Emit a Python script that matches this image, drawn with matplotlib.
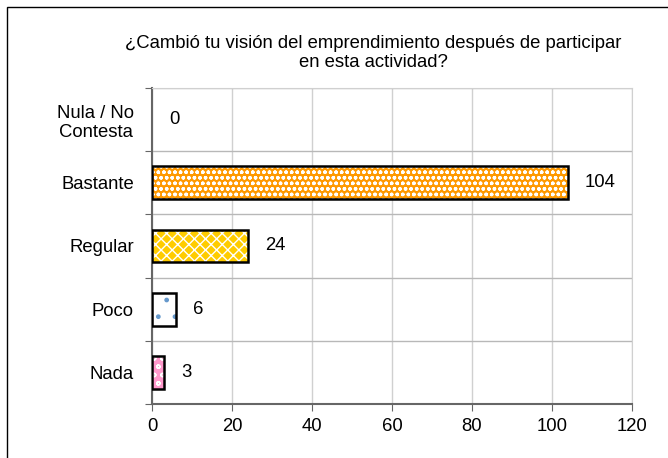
import matplotlib
matplotlib.use("Agg")
import matplotlib.pyplot as plt
from matplotlib.patches import Rectangle

plt.rcParams['font.family'] = ['Liberation Sans', 'DejaVu Sans']

# data (bottom to top)
categories = ["Nada", "Poco", "Regular", "Bastante", "Nula / No\nContesta"]
values = [3, 6, 24, 104, 0]
face_colors = ["#FF99CC", "#FFFFFF", "#FFCC00", "#FF9900", "#FFFFFF"]
hatch_colors = ["#FFFFFF", "#6699CC", "#FFFFFF", "#FFFFFF", "#FFFFFF"]
hatches = ["oo", ".", "xxx", "ooo", ""]

W, H = 668, 458
fs = 13.3
fig = plt.figure(figsize=(W / 100, H / 100), dpi=100)

# outer frame of the chart (only top and left edges fall inside the picture)
fig.patches.append(Rectangle((7 / W, -0.05), 1.0, 1.05 - 7 / H,
                             transform=fig.transFigure, fill=False,
                             edgecolor="#000000", linewidth=1.0))

ax = fig.add_axes([152 / W, 1 - 404 / H, (632 - 152) / W, (404 - 88) / H])

y = list(range(len(categories)))
ax.barh(y, values, height=0.52, color=face_colors, edgecolor="none", zorder=2)
for yi, v, hc, ht in zip(y, values, hatch_colors, hatches):
    if v > 0 and ht:
        ax.barh(yi, v, height=0.52, color="none", edgecolor=hc, hatch=ht,
                linewidth=0, zorder=3)
for yi, v in zip(y, values):
    if v > 0:
        ax.barh(yi, v, height=0.52, color="none", edgecolor="black",
                linewidth=1.8, zorder=4)
    ax.text(v + 4.2, yi, str(v), va="center", ha="left", fontsize=fs)

ax.set_xlim(0, 120)
ax.set_ylim(-0.5, len(categories) - 0.5)
ax.set_xticks(range(0, 121, 20))
ax.set_yticks([i - 0.5 for i in range(len(categories) + 1)], minor=False)
ax.set_yticklabels([])
ax.set_yticks(y, minor=True)
ax.set_yticklabels(categories, minor=True, multialignment="center")
ax.tick_params(axis="y", which="minor", length=0, pad=13, labelsize=fs)
ax.tick_params(axis="y", which="major", length=5, color="#666666", direction="out")
ax.tick_params(axis="x", length=5, color="#666666", labelsize=fs, pad=5)

ax.grid(True, axis="x", color="#D0D0D0", linewidth=1.0, zorder=0)
ax.grid(True, axis="y", which="major", color="#B8B8B8", linewidth=1.0, zorder=0)

for s in ["top", "right"]:
    ax.spines[s].set_color("#D0D0D0")
for s in ["left", "bottom"]:
    ax.spines[s].set_color("#666666")
    ax.spines[s].set_linewidth(1.5)

fig.text(373 / W, 1 - 53 / H,
         "¿Cambió tu visión del emprendimiento después de participar\nen esta actividad?",
         ha="center", va="center", fontsize=fs, multialignment="center",
         linespacing=1.15)

fig.savefig("out.png", dpi=100)
